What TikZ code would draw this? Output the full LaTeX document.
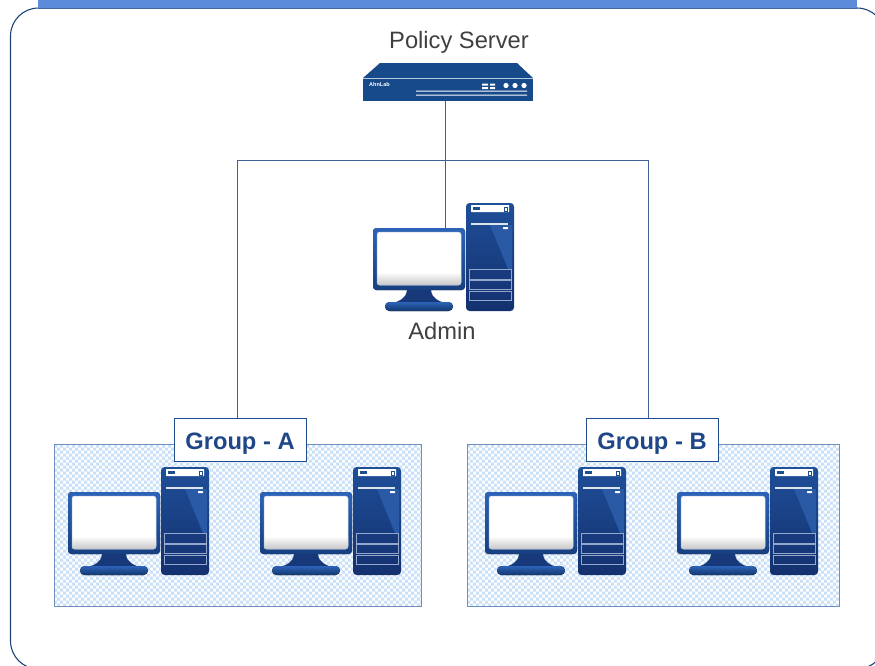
\documentclass[tikz,border=0pt]{standalone}
\usepackage{fontspec}
\setmainfont{Liberation Sans}
\usetikzlibrary{calc,shadows}
\definecolor{navy}{HTML}{1F4E8C}
\definecolor{deep}{HTML}{174A8B}
\definecolor{bar}{HTML}{5B8BD9}
\definecolor{barline}{HTML}{41689F}
\definecolor{wire}{HTML}{3F6098}
\definecolor{frameblue}{HTML}{1F4478}
\definecolor{boxline}{HTML}{6F8FC0}
\definecolor{checker}{HTML}{C9E0F7}
\definecolor{labelblue}{HTML}{1F4788}
\definecolor{txt}{HTML}{404040}
\definecolor{bezeltop}{HTML}{2C63B8}
\definecolor{bezelbot}{HTML}{173F80}
\definecolor{towertop}{HTML}{1F4F98}
\definecolor{towerbot}{HTML}{14306F}
\definecolor{towerlight}{HTML}{2A5AA6}
\definecolor{baybox}{HTML}{93A8CC}
\definecolor{standdark}{HTML}{17397A}
\newcommand{\checkerfill}[4]{%
  \begin{scope}
  \clip (#1,#2) rectangle (#3,#4);
  \fill[checker]
  \foreach \cx in {0,...,62}{\foreach \cy in {0,...,27}{
    (#1+6*\cx,#2+6*\cy) rectangle ++(3,3)
    (#1+3+6*\cx,#2+3+6*\cy) rectangle ++(3,3)
  }};
  \end{scope}}
\tikzset{
  wireline/.style={draw=wire,line width=1pt},
  groupbox/.style={draw=boxline,line width=1pt},
  grouplabel/.style={draw=navy,line width=1pt,fill=white,text=labelblue,font=\bfseries\fontsize{23.7}{26}\selectfont,
     minimum height=43pt,text height=19pt,text depth=0pt,inner xsep=0pt,inner ysep=0pt,anchor=center,
     drop shadow={shadow xshift=1pt,shadow yshift=-1pt,opacity=.35}},
  plain/.style={text=txt,font=\fontsize{23.7}{26}\selectfont,inner sep=0pt},
  anchorbox/.style={inner sep=0pt,outer sep=0pt},
  pics/computer/.style={code={
    % tower
    \path[top color=towertop,bottom color=towerbot,rounded corners=3.5pt]
       (93,-25) rectangle (141,83);
    \fill[towerlight] (117,-3) -- (139,-3) -- (139,41) -- (135,41) -- cycle;
    \fill[white,rounded corners=.5pt] (98,-23) rectangle (136,-16);
    \fill[navy] (100,-21) rectangle (107,-18);
    \draw[navy,line width=.4pt] (131,-21) rectangle (134,-17);
    \fill[white!85!navy] (98,-5) rectangle (135,-3.5);
    \fill[white,rounded corners=.5pt] (130,-1) rectangle (135,1.2);
    \foreach \yy/\hh in {41/10,52/9.5,63/9.5}{
      \draw[baybox,line width=.8pt] (96,\yy) rectangle (138,\yy+\hh);}
    % monitor
    \fill[top color=bezeltop,bottom color=bezelbot,rounded corners=3.5pt] (0,0) rectangle (92,62);
    \fill[white,rounded corners=2.5pt] (4,4) rectangle (88,57);
    \path[top color=white,bottom color=black!22,rounded corners=2.5pt] (4,44) rectangle (88,57);
    \draw[white!70!navy,line width=.5pt,rounded corners=2.5pt] (4,4) rectangle (88,57);
    \fill[standdark] (34,62) .. controls (33,71) and (26,73) .. (20,75) -- (72,75) .. controls (66,73) and (59,71) .. (58,62) -- cycle;
    \fill[top color=bezeltop,bottom color=bezelbot!85!black,rounded corners=4.4pt] (12,74) rectangle (80,83);
  }},
}
\begin{document}
\begin{tikzpicture}[x=1pt,y=-1pt]
\useasboundingbox (0,0) rectangle (875,665);
% frame and title band
\draw[frameblue,line width=1.1pt,fill=white,rounded corners=28pt] (10.5,8) rectangle (885,669);
\fill[bar] (38,0) rectangle (857,8);
\draw[barline,line width=1pt] (38,8) -- (857,8);
% group boxes
\checkerfill{54}{444.5}{421}{606}
\checkerfill{467}{444.5}{839}{606}
\node[groupbox,anchorbox,minimum width=367pt,minimum height=161.5pt] (boxa) at (237.5,525.25) {};
\node[groupbox,anchorbox,minimum width=372pt,minimum height=161.5pt] (boxb) at (653,525.25) {};
% computers
\pic at (373,228) {computer};
\pic at (68,492) {computer};
\pic at (260,492) {computer};
\pic at (485,492) {computer};
\pic at (677,492) {computer};
% server
\node[anchorbox,minimum width=170pt,minimum height=38pt] (server) at (448,82) {};
\fill[deep] (363,78) -- (380,63) -- (517,63) -- (533,78) -- cycle;
\fill[deep] (363,79) rectangle (533,101);
\draw[white!70!deep,line width=.7pt] (363,78.5) -- (533,78.5);
\node[anchor=west,text=white,inner sep=0pt,font=\bfseries\fontsize{5.5}{6}\selectfont] (brand) at (369,84.5) {AhnLab};
\fill[white] (482,83.5) rectangle (488,85.5) (490,83.5) rectangle (495,85.5) (482,87) rectangle (488,89) (490,87) rectangle (495,89);
\fill[white] (506,85.5) circle (2.6) (515,85.5) circle (2.6) (524,85.5) circle (2.6);
\fill[white] (416,90.5) rectangle (527,91.5) (416,94.5) rectangle (527,95.5);
% labels
\node[plain] (policy) at (459,42) {Policy Server};
\node[plain] (admin) at (442,331) {Admin};
\node[grouplabel,minimum width=132pt] (groupa) at (240,439.5) {Group - A};
\node[grouplabel,minimum width=132pt] (groupb) at (652,439.5) {Group - B};
% connectors
\coordinate (adminpc) at (445,228);
\coordinate (hub) at (445,160);
\draw[wireline] (server.south) ++(-3,0) -- (adminpc);
\draw[wireline] (hub) -| ([xshift=-3pt]groupa.north);
\draw[wireline] (hub) -| ([xshift=-4pt]groupb.north);
\end{tikzpicture}
\end{document}
